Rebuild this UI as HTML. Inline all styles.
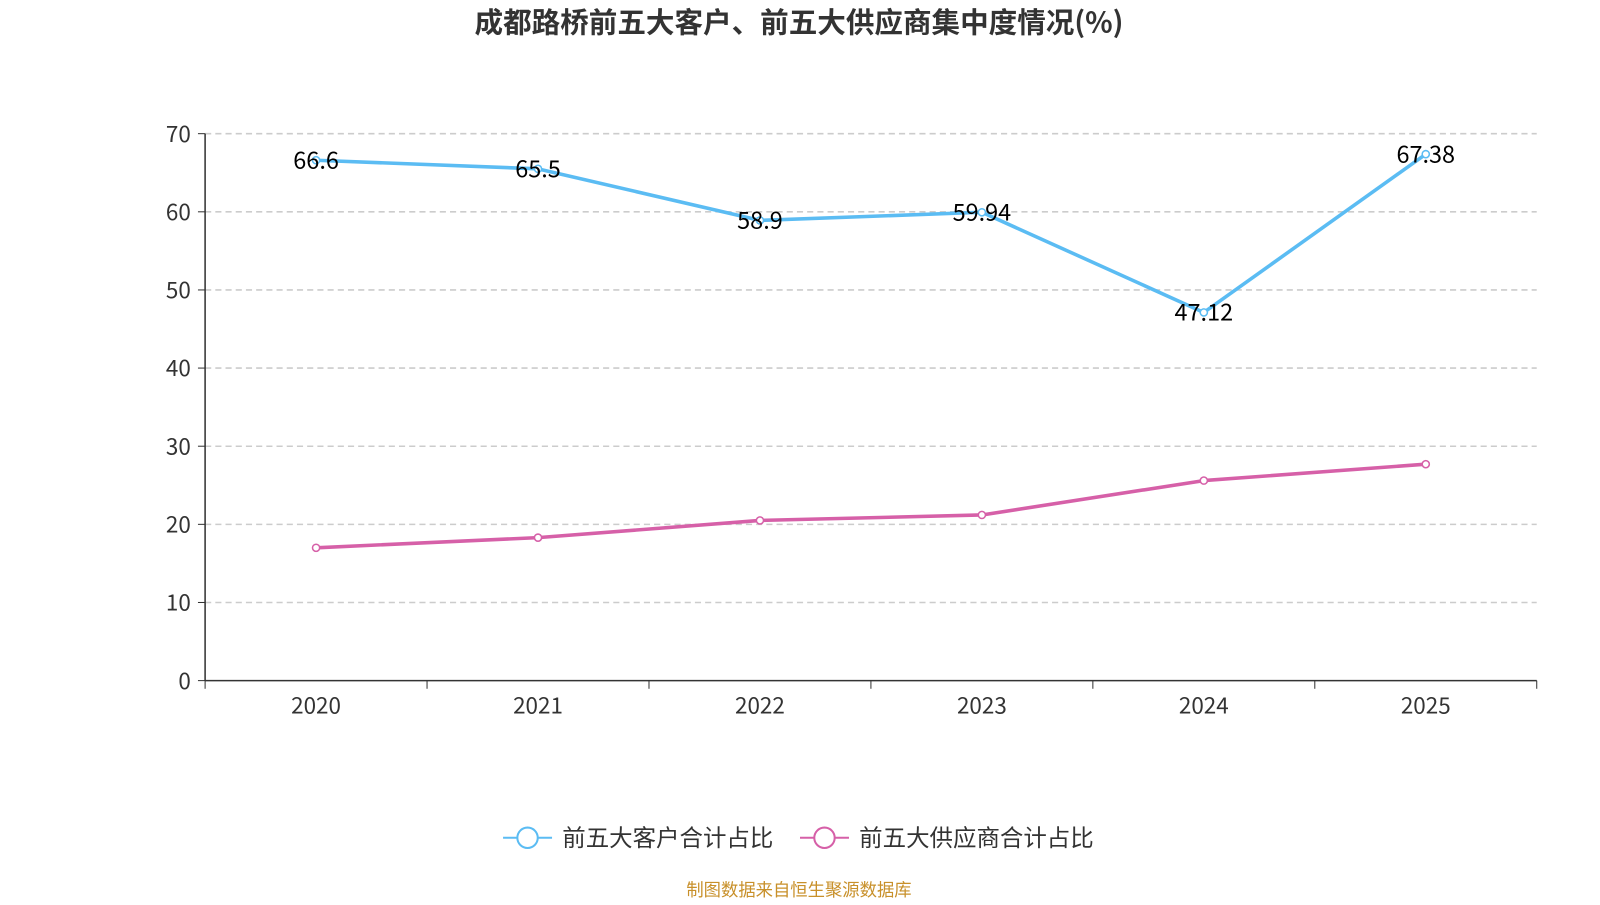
<!DOCTYPE html>
<html><head><meta charset="utf-8"><style>
body{margin:0;background:#fff;font-family:"Noto Sans CJK SC","Liberation Sans",sans-serif;}
svg text{font-family:"Noto Sans CJK SC","Liberation Sans",sans-serif;}
</style></head><body>
<svg id="chart" width="1600" height="900" viewBox="0 0 1568 882" xmlns="http://www.w3.org/2000/svg">
<text x="783" y="32" text-anchor="middle" font-size="28" font-weight="bold" fill="#333">成都路桥前五大客户、前五大供应商集中度情况(%)</text>
<g id="grid"></g><g id="axes"></g><g id="series"></g>
<g>
<g>
<line x1="493" y1="821" x2="541" y2="821" stroke="#5bbcf3" stroke-width="2"/>
<circle cx="517" cy="821" r="10" fill="#fff" stroke="#5bbcf3" stroke-width="2"/>
<text x="551" y="829" font-size="23" fill="#333">前五大客户合计占比</text></g>
<g>
<line x1="784" y1="821" x2="832" y2="821" stroke="#d660a8" stroke-width="2"/>
<circle cx="808" cy="821" r="10" fill="#fff" stroke="#d660a8" stroke-width="2"/>
<text x="842" y="829" font-size="23" fill="#333">前五大供应商合计占比</text></g>
</g>
<text x="783" y="878" text-anchor="middle" font-size="17" fill="#c8902a">制图数据来自恒生聚源数据库</text>
</svg>
<script>
const categories=["2020","2021","2022","2023","2024","2025"];
const customers=[66.6,65.5,58.9,59.94,47.12,67.38];
const suppliers=[17.0,18.3,20.5,21.2,25.6,27.7];
const yTicks=[0,10,20,30,40,50,60,70];
const NS="http://www.w3.org/2000/svg";
const x0=201,x1=1506,y0=667,y1=131,yMax=70;
const bw=(x1-x0)/categories.length;
const X=i=>x0+bw*(i+0.5);
const Y=v=>y0-(v/yMax)*(y0-y1);
function mk(tag,attrs,parent){const e=document.createElementNS(NS,tag);for(const k in attrs)e.setAttribute(k,attrs[k]);document.getElementById(parent).appendChild(e);return e;}
yTicks.forEach(t=>{
 if(t>0){const g=mk('line',{x1:x0,x2:x1,y1:Y(t),y2:Y(t),stroke:'#ccc','stroke-dasharray':'6,4','stroke-width':1.5},'grid');
 
 }
 const tk=mk('line',{x1:x0-7,x2:x0,y1:Y(t),y2:Y(t),stroke:'#333'},'axes');
 
 
 const l=mk('text',{x:x0-14,y:Y(t)+8,'text-anchor':'end','font-size':22,fill:'#333'},'axes');l.textContent=t;
 
 
});
let ya=mk('line',{x1:x0,x2:x0,y1:y1,y2:y0,stroke:'#333','stroke-width':1.5},'axes');


let xa=mk('line',{x1:x0,x2:x1,y1:y0,y2:y0,stroke:'#333','stroke-width':1.5},'axes');


for(let i=0;i<=categories.length;i++){const t=mk('line',{x1:x0+bw*i,x2:x0+bw*i,y1:y0,y2:y0+8,stroke:'#333'},'axes');
 
 }
categories.forEach((c,i)=>{const l=mk('text',{x:X(i),y:y0+32,'text-anchor':'middle','font-size':22,fill:'#333'},'axes');l.textContent=c;
 
 });
function series(vals,color,name,labels){
 const p=mk('polyline',{points:vals.map((v,i)=>X(i)+','+Y(v)).join(' '),fill:'none',stroke:color,'stroke-width':3.5,'stroke-linejoin':'round'},'series');
 
 
 vals.forEach((v,i)=>{const c=mk('circle',{cx:X(i),cy:Y(v),r:3.5,fill:'#fff',stroke:color,'stroke-width':1.5},'series');
 
 
 if(labels){const t=mk('text',{x:X(i),y:Y(v)+8,'text-anchor':'middle','font-size':23,fill:'#000'},'series');t.textContent=v;
 
 }});
}
series(suppliers,'#d660a8','suppliers',false);
series(customers,'#5bbcf3','customers',true);
</script>
</body></html>
